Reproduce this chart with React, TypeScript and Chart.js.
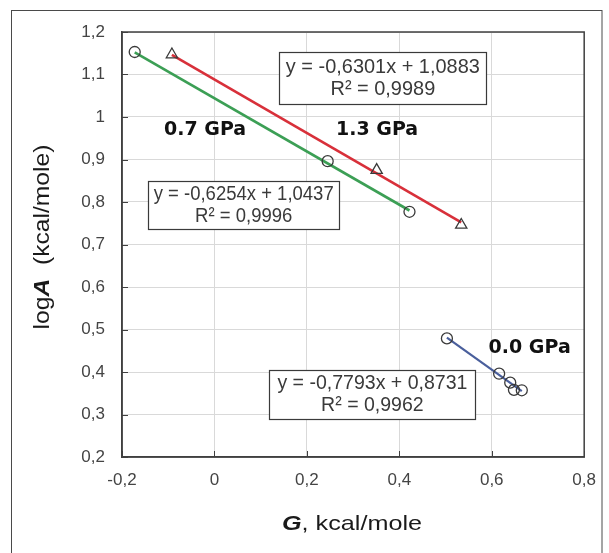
import React, { useEffect, useRef } from "react";
import { Chart, registerables } from "chart.js";

Chart.register(...registerables);

// ---- data ----
const greenX = [-0.1725, 0.245, 0.422];
const greenY = [1.153, 0.896, 0.777];
const redX = [-0.092, 0.351, 0.534];
const redY = [1.147, 0.875, 0.746];
const blueX = [0.503, 0.616, 0.64, 0.648, 0.665];
const blueY = [0.479, 0.396, 0.375, 0.358, 0.357];

const greenTrendX = [-0.1725, 0.422];
const greenTrendY = [1.152, 0.78];
const redTrendX = [-0.092, 0.534];
const redTrendY = [1.146, 0.752];
const blueTrendX = [0.503, 0.665];
const blueTrendY = [0.481, 0.355];

const xTickLabels = ["-0,2", "0", "0,2", "0,4", "0,6", "0,8"];
const yTickLabels = ["0,2", "0,3", "0,4", "0,5", "0,6", "0,7", "0,8", "0,9", "1", "1,1", "1,2"];

const eqLines = ["y = -0,6301x + 1,0883", "y = -0,6254x + 1,0437", "y = -0,7793x + 0,8731"];
const r2Lines = ["R² = 0,9989", "R² = 0,9996", "R² = 0,9962"];
const pressureLabels = ["1.3 GPa", "0.7 GPa", "0.0 GPa"];

// annotation placement (data coordinates) and styling
const eqBoxes = [
  { x: 0.3644, y: 1.0922, w: 207, h: 52, font: 21, tw: 194 },
  { x: 0.0633, y: 0.7922, w: 191, h: 48, font: 20.5, tw: 180 },
  { x: 0.3418, y: 0.3467, w: 206, h: 49, font: 21, tw: 190 },
];
const labelPos = [
  { x: 0.352, y: 0.9688 },
  { x: -0.0202, y: 0.9688 },
  { x: 0.682, y: 0.456 },
];

const pts = (xs: number[], ys: number[]) => xs.map((x, i) => ({ x, y: ys[i] }));

const annotPlugin = {
  id: "annots",
  beforeDraw(chart: any) {
    const ctx = chart.ctx;
    ctx.save();
    ctx.fillStyle = "#ffffff";
    ctx.fillRect(0, 0, chart.width, chart.height);
    ctx.strokeStyle = "#4a4a4a";
    ctx.lineWidth = 1;
    ctx.strokeRect(11.5, 10.5, 590.5, 600);
    ctx.restore();
  },
  afterDraw(chart: any) {
    const ctx = chart.ctx;
    const { left, top, right, bottom } = chart.chartArea;
    const xs = chart.scales.x;
    const ys = chart.scales.y;
    ctx.save();
    // plot border
    ctx.strokeStyle = "#404040";
    ctx.lineWidth = 1.5;
    ctx.strokeRect(left, top, right - left, bottom - top);
    // inner tick marks
    ctx.lineWidth = 1;
    ctx.beginPath();
    xs.ticks.forEach((t: any) => {
      const px = Math.round(xs.getPixelForValue(t.value)) + 0.5;
      ctx.moveTo(px, bottom);
      ctx.lineTo(px, bottom - 6);
    });
    ys.ticks.forEach((t: any) => {
      const py = Math.round(ys.getPixelForValue(t.value)) + 0.5;
      ctx.moveTo(left, py);
      ctx.lineTo(left + 6, py);
    });
    ctx.stroke();

    // equation boxes
    eqBoxes.forEach((b, i) => {
      const cx = xs.getPixelForValue(b.x);
      const cy = ys.getPixelForValue(b.y);
      const bx = Math.round(cx - b.w / 2) + 0.5;
      const by = Math.round(cy - b.h / 2) + 0.5;
      ctx.fillStyle = "#ffffff";
      ctx.fillRect(bx, by, b.w, b.h);
      ctx.strokeStyle = "#3a3a3a";
      ctx.lineWidth = 1.2;
      ctx.strokeRect(bx, by, b.w, b.h);
      ctx.fillStyle = "#3a3a3a";
      ctx.font = `${b.font}px "Liberation Sans", Arial, sans-serif`;
      const mw = ctx.measureText(eqLines[i]).width;
      const sx = b.tw / mw;
      ctx.save();
      ctx.translate(cx, cy);
      ctx.scale(sx, 1);
      ctx.textAlign = "center";
      ctx.textBaseline = "middle";
      ctx.fillText(eqLines[i], 0, -11);
      ctx.fillText(r2Lines[i], 0, 11);
      ctx.restore();
    });

    // pressure labels
    ctx.fillStyle = "#111111";
    ctx.font = `bold 19px "DejaVu Sans", sans-serif`;
    ctx.textAlign = "center";
    ctx.textBaseline = "middle";
    labelPos.forEach((p, i) => {
      ctx.fillText(pressureLabels[i], xs.getPixelForValue(p.x), ys.getPixelForValue(p.y));
    });

    // x title: "G, kcal/mole" with bold italic G
    {
      const fReg = `21px "Liberation Sans", Arial, sans-serif`;
      const fBI = `italic bold 21px "Liberation Sans", Arial, sans-serif`;
      const stretch = 1.2;
      ctx.font = fBI;
      const w1 = ctx.measureText("G").width;
      ctx.font = fReg;
      const w2 = ctx.measureText(", kcal/mole").width;
      const total = (w1 + w2) * stretch;
      const cx = 352;
      const baseY = 530;
      ctx.save();
      ctx.translate(cx - total / 2, baseY);
      ctx.scale(stretch, 1);
      ctx.textAlign = "left";
      ctx.textBaseline = "alphabetic";
      ctx.fillStyle = "#1a1a1a";
      ctx.font = fBI;
      ctx.fillText("G", 0, 0);
      ctx.font = fReg;
      ctx.fillText(", kcal/mole", w1, 0);
      ctx.restore();
    }
    // y title: "logA  (kcal/mole)" with bold italic A
    {
      const fReg = `22px "Liberation Sans", Arial, sans-serif`;
      const fBI = `italic bold 22px "Liberation Sans", Arial, sans-serif`;
      const stretch = 1.12;
      ctx.font = fReg;
      const w1 = ctx.measureText("log").width;
      const w3 = ctx.measureText("  (kcal/mole)").width;
      ctx.font = fBI;
      const w2 = ctx.measureText("A").width;
      const total = (w1 + w2 + w3) * stretch;
      const cx = 42;
      const cy = 237;
      ctx.save();
      ctx.translate(cx, cy + total / 2);
      ctx.rotate(-Math.PI / 2);
      ctx.scale(stretch, 1);
      ctx.textAlign = "left";
      ctx.textBaseline = "middle";
      ctx.fillStyle = "#1a1a1a";
      ctx.font = fReg;
      ctx.fillText("log", 0, 1);
      ctx.font = fBI;
      ctx.fillText("A", w1, 1);
      ctx.font = fReg;
      ctx.fillText("  (kcal/mole)", w1 + w2, 1);
      ctx.restore();
    }
    ctx.restore();
  },
};

export default function App() {
  const canvasRef = useRef<HTMLCanvasElement | null>(null);

  useEffect(() => {
    const canvas = canvasRef.current;
    if (!canvas) return;
    const markerColor = "#3a3a3a";
    const chart = new Chart(canvas, {
      type: "scatter",
      data: {
        datasets: [
          {
            label: "0.7 GPa points",
            data: pts(greenX, greenY),
            pointStyle: "circle",
            pointRadius: 5.5,
            borderColor: markerColor,
            backgroundColor: "rgba(0,0,0,0)",
            borderWidth: 1.3,
          },
          {
            label: "1.3 GPa points",
            data: pts(redX, redY),
            pointStyle: "triangle",
            pointRadius: 6.5,
            borderColor: markerColor,
            backgroundColor: "rgba(0,0,0,0)",
            borderWidth: 1.3,
          },
          {
            label: "0.0 GPa points",
            data: pts(blueX, blueY),
            pointStyle: "circle",
            pointRadius: 5.5,
            borderColor: markerColor,
            backgroundColor: "rgba(0,0,0,0)",
            borderWidth: 1.3,
          },
          {
            type: "line",
            label: "0.7 GPa trend",
            data: pts(greenTrendX, greenTrendY),
            borderColor: "#3c9f55",
            borderWidth: 2.6,
            pointRadius: 0,
            fill: false,
          } as any,
          {
            type: "line",
            label: "1.3 GPa trend",
            data: pts(redTrendX, redTrendY),
            borderColor: "#d8303a",
            borderWidth: 2.6,
            pointRadius: 0,
            fill: false,
          } as any,
          {
            type: "line",
            label: "0.0 GPa trend",
            data: pts(blueTrendX, blueTrendY),
            borderColor: "#4a5f9c",
            borderWidth: 2.2,
            pointRadius: 0,
            fill: false,
          } as any,
        ],
      },
      options: {
        responsive: false,
        animation: false,
        layout: { padding: { left: 0, top: 32, right: 21, bottom: 0 } },
        plugins: {
          legend: { display: false },
          tooltip: { enabled: false },
        },
        scales: {
          x: {
            type: "linear",
            min: -0.2,
            max: 0.8,
            afterFit: (s: any) => {
              s.height = 96;
            },
            ticks: {
              stepSize: 0.2,
              padding: 13,
              color: "#444444",
              font: { family: '"Liberation Sans", Arial, sans-serif', size: 17 },
              callback: (_v: any, i: number) => xTickLabels[i],
            },
            grid: { color: "#d9d9d9", lineWidth: 1, drawTicks: false },
            border: { display: true, color: "#404040", width: 1.5 },
          },
          y: {
            type: "linear",
            min: 0.2,
            max: 1.2,
            afterFit: (s: any) => {
              s.width = 122;
            },
            ticks: {
              stepSize: 0.1,
              padding: 17,
              color: "#444444",
              font: { family: '"Liberation Sans", Arial, sans-serif', size: 17 },
              callback: (_v: any, i: number) => yTickLabels[i],
            },
            grid: { color: "#d9d9d9", lineWidth: 1, drawTicks: false },
            border: { display: true, color: "#404040", width: 1.5 },
          },
        },
      },
      plugins: [annotPlugin],
    } as any);

    let alive = true;
    if ((document as any).fonts && (document as any).fonts.ready) {
      (document as any).fonts.ready.then(() => {
        if (alive) chart.draw();
      });
    }
    return () => {
      alive = false;
      chart.destroy();
    };
  }, []);

  return (
    <div style={{ position: "absolute", left: 0, top: 0, width: 609, height: 553, background: "#fff" }}>
      <canvas ref={canvasRef} width={609} height={553} style={{ display: "block", width: 609, height: 553 }} />
    </div>
  );
}
